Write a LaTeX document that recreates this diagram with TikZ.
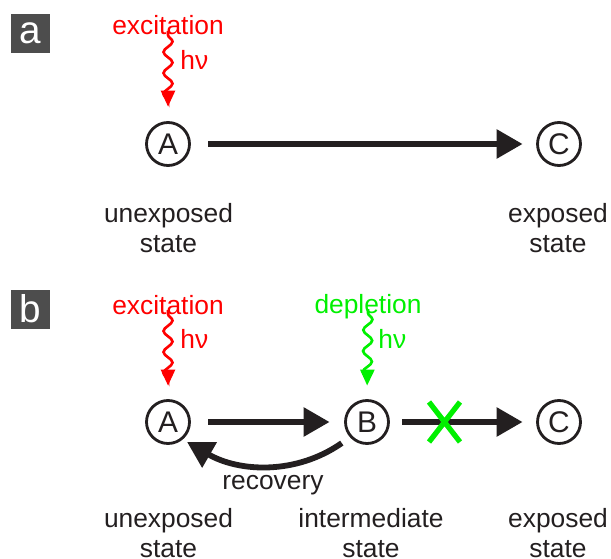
\documentclass[tikz,border=0pt]{standalone}
\usepackage{fontspec}
\setmainfont{Liberation Sans}
\usetikzlibrary{arrows.meta,decorations.pathmorphing}
\definecolor{ink}{RGB}{35,31,32}
\definecolor{panelgray}{RGB}{77,77,77}
\definecolor{exred}{RGB}{255,0,0}
\definecolor{depgreen}{RGB}{0,240,0}

\begin{document}
\begin{tikzpicture}[
    state/.style={circle, draw=ink, line width=1.6pt, minimum size=0.86cm, inner sep=0, text=ink, font=\fontsize{17}{17}\selectfont},
    panel/.style={fill=panelgray, text=white, minimum size=0.78cm, inner sep=0, font=\fontsize{22}{22}\selectfont},
    lbl/.style={inner sep=0, text=ink, align=center, anchor=north, font=\fontsize{15}{17}\selectfont},
    light/.style={inner sep=0, anchor=base, font=\fontsize{15}{15}\selectfont},
    react/.style={-{Triangle[length=0.52cm,width=0.56cm]}, line width=3.3pt, draw=ink},
    photon/.style={-{Triangle[length=0.32cm,width=0.28cm]}, line width=1.5pt, decorate,
        decoration={snake, amplitude=0.09cm, segment length=0.42cm, post length=0.36cm}},
  ]
    \useasboundingbox (0,0) rectangle (12.22,-11.18);

    % (a) direct exposure
    \node[panel] (pa) at (0.61,-0.67) {a};
    \node[state] (A1) at (3.36,-2.88) {A};
    \node[state] (C1) at (11.18,-2.88) {C};
    \node[light, text=exred] (ex1) at (3.36,-0.70) {excitation};
    \node[light, text=exred, anchor=base west] (hv1) at (3.6,-1.40) {hν};
    \draw[photon, exred, shorten <=0.08cm, shorten >=0.29cm] (ex1.base) -- (A1.north);
    \draw[react, shorten <=0.35cm, shorten >=0.27cm] (A1) -- (C1);
    \node[lbl] (u1) at (3.37,-4.06) {unexposed\\state};
    \node[lbl] (e1) at (11.16,-4.06) {exposed\\state};

    % (b) with a depletion step back to A
    \node[panel] (pb) at (0.61,-6.18) {b};
    \node[state] (A2) at (3.36,-8.44) {A};
    \node[state] (B2) at (7.34,-8.44) {B};
    \node[state] (C2) at (11.18,-8.44) {C};
    \node[light, text=exred] (ex2) at (3.36,-6.28) {excitation};
    \node[light, text=exred, anchor=base west] (hv2) at (3.6,-6.96) {hν};
    \node[light, text=depgreen] (dp2) at (7.36,-6.26) {depletion};
    \node[light, text=depgreen, anchor=base west] (hv3) at (7.56,-6.96) {hν};
    \draw[photon, exred, shorten <=0.08cm, shorten >=0.27cm] (ex2.base) -- (A2.north);
    \draw[photon, depgreen, shorten <=0.08cm, shorten >=0.27cm] (dp2.base) -- (B2.north);
    \draw[react, shorten <=0.35cm, shorten >=0.29cm] (A2) -- (B2);
    \draw[react, shorten <=0.25cm, shorten >=0.27cm] (B2) -- (C2);
    \draw[react, shorten <=0.2cm, shorten >=0.1cm] (B2.222) to[out=-145, in=-30] (A2.-50);
    \node[light, text=ink] (rec) at (5.46,-9.78) {recovery};
    % blocked step
    \draw[depgreen, line width=3pt] (8.58,-8.04) -- (9.2,-8.84) (9.2,-8.04) -- (8.58,-8.84);
    \node[lbl] (u2) at (3.37,-10.16) {unexposed\\state};
    \node[lbl] (i2) at (7.42,-10.16) {intermediate\\state};
    \node[lbl] (e2) at (11.16,-10.16) {exposed\\state};
\end{tikzpicture}
\end{document}
